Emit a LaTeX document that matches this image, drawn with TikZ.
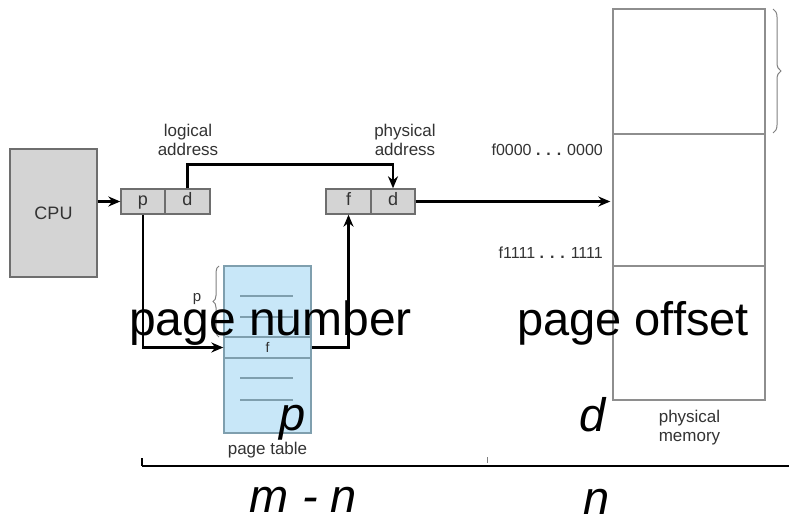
\documentclass[tikz,border=0pt]{standalone}
\usepackage{fontspec}
\setmainfont{Liberation Sans}
\usetikzlibrary{arrows.meta,decorations.pathreplacing}
\definecolor{boxgray}{HTML}{D4D4D4}
\definecolor{boxedge}{HTML}{6E6E6E}
\definecolor{ptblue}{HTML}{C8E7F8}
\definecolor{ptedge}{HTML}{7F9FAE}
\definecolor{memedge}{HTML}{8E8E8E}
\definecolor{txt}{HTML}{333333}
\tikzset{
  cell/.style={draw=boxedge, fill=boxgray, line width=1.4pt, minimum height=25pt, inner sep=0pt, text=txt, font=\fontsize{18}{20}\selectfont, text height=13pt, text depth=4pt},
  small/.style={text=txt, font=\fontsize{17}{19}\selectfont, align=center, inner sep=0pt},
  addr/.style={text=txt, font=\fontsize{16}{18}\selectfont, inner sep=0pt},
  big/.style={font=\fontsize{48}{50}\selectfont, inner sep=0pt, text=black},
  bigit/.style={font=\fontsize{47}{50}\selectfont\itshape, inner sep=0pt, text=black},
  conn/.style={draw=black, line width=2.6pt, -{Stealth[length=12pt,width=10pt]}},
  memcell/.style={draw=memedge, line width=1.4pt, minimum width=152pt, inner sep=0pt},
  dashline/.style={draw=ptedge, line width=1.5pt},
  bracegray/.style={draw=gray, line width=1pt, decorate},
}
\begin{document}
\begin{tikzpicture}[x=1pt,y=-1pt]
\useasboundingbox (0,0) rectangle (789,521);
\fill[white] (0,0) rectangle (789,521);

% CPU
\node[draw=boxedge, fill=boxgray, line width=1.4pt, minimum width=87pt, minimum height=128pt, inner sep=0pt, text=txt, font=\fontsize{18}{20}\selectfont] (cpu) at (53.5,213) {CPU};

% logical address
\node[cell, minimum width=44pt] (lp) at (143,201.5) {p};
\node[cell, minimum width=45pt] (ld) at (187.5,201.5) {d};
\node[small] (logl) at (188,139.5) {logical\\address};

% physical address
\node[cell, minimum width=45pt] (pf) at (348.5,201.5) {f};
\node[cell, minimum width=44pt] (pd) at (393,201.5) {d};
\node[small] (phyl) at (405,139.5) {physical\\address};

% physical memory
\node[memcell, minimum height=125pt] (mem1) at (689,71.5) {};
\node[memcell, minimum height=132pt] (mem2) at (689,200) {};
\node[memcell, minimum height=134pt] (mem3) at (689,333) {};
\node[addr, anchor=east] (f0) at (603,150) {f0000 \textbf{. . .} 0000};
\node[addr, anchor=east] (f1) at (603,253) {f1111 \textbf{. . .} 1111};
\node[small] (pml) at (689.5,427.5) {physical\\memory};
\draw[bracegray, decoration={brace, amplitude=8pt}] (773,9) -- (773,133);

% page table
\node[draw=ptedge, fill=ptblue, line width=1.4pt, minimum width=87pt, minimum height=167pt, inner sep=0pt] (pt) at (267.5,349.5) {};
\node[draw=ptedge, line width=1.4pt, minimum width=87pt, minimum height=21pt, inner sep=0pt, text=txt, font=\fontsize{14}{16}\selectfont] (frow) at (267.5,347.5) {f};
\foreach \yy in {296,317,378,400} {
  \draw[dashline] (240,\yy) -- (293,\yy);
}
\draw[bracegray, decoration={brace, amplitude=6pt}] (219,337) -- (219,266);
\node[text=txt, font=\fontsize{15}{17}\selectfont, inner sep=0pt] (pl) at (197,299) {p};
\node[small] (ptl) at (267.5,450) {page table};

% connectors
\draw[conn] (cpu.east |- lp.west) -- (lp.west);
\draw[conn] (ld.north) -- ++(0,-24) -| (pd.north);
\draw[conn] (lp.south) |- (frow.west);
\draw[conn] (frow.east) -| (pf.south);
\draw[conn] (pd.east) -- ([xshift=-2pt]pd.east -| mem2.west);

% big labels
\node[big, anchor=base west] (pn) at (129,335) {page number};
\node[big, font=\fontsize{47}{50}\selectfont, anchor=base west] (po) at (517,335) {page offset};
\node[bigit, anchor=base] (pi) at (293,430) {p};
\node[bigit, anchor=base] (di) at (593,431) {d};
\node[bigit, anchor=base] (mn) at (303.5,512) {m - n};
\node[bigit, anchor=base] (ni) at (597,514) {n};

% bottom rule
\coordinate (r0) at (142,466);
\coordinate (r1) at (789,466);
\coordinate (t0) at (142,458);
\coordinate (t1) at (487,457);
\coordinate (t2) at (487,463);
\draw[line width=1.8pt] (r0) -- (r1);
\draw[line width=1.4pt] (t0) -- (r0);
\draw[line width=1pt, gray] (t1) -- (t2);
\end{tikzpicture}
\end{document}
